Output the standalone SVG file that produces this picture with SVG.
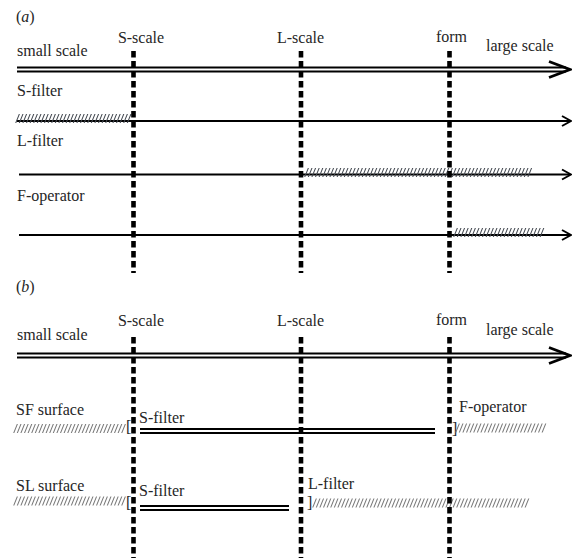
<svg xmlns="http://www.w3.org/2000/svg" width="572" height="558" viewBox="0 0 572 558">
  <style>
    text { font-family: "Liberation Serif", "Times New Roman", serif; font-size: 16px; fill: #262626; }
    .mid { text-anchor: middle; }
    .scale { stroke: #000; stroke-width: 4.6; stroke-dasharray: 6.5 3.5; fill: none; }
    .axis-outer { stroke: #000; stroke-width: 6; fill: none; }
    .axis-inner { stroke: #fff; stroke-width: 2; fill: none; }
    .line { stroke: #000; stroke-width: 2; fill: none; }
    .head2 { stroke: #000; stroke-width: 2.8; fill: none; stroke-linejoin: miter; }
    .head1 { stroke: #000; stroke-width: 2; fill: none; }
    .hatch-dark { stroke: #454a52; stroke-width: 9; stroke-dasharray: 1.1 2.5; fill: none; }
    .hatch { stroke: #7a7a7a; stroke-width: 9; stroke-dasharray: 1.1 2.5; fill: none; }
    .band-outer { stroke: #000; stroke-width: 6; fill: none; }
    .band-inner { stroke: #fff; stroke-width: 1.8; fill: none; }
  </style>

  <!-- ================= panel (a) ================= -->
  <g id="panel-a">
    <text x="16" y="22">(<tspan font-style="italic">a</tspan>)</text>

    <g id="a-axis">
      <text x="17" y="56">small scale</text>
      <text x="486" y="51">large scale</text>
      <path class="axis-outer" d="M17 69.5 H566"/>
      <path class="axis-inner" d="M17 69.5 H566"/>
      <path class="head2" d="M549 61.5 L570 69.5 L549 77.5"/>
    </g>

    <g id="a-s-filter">
      <text x="17" y="96">S-filter</text>
      <path class="line" d="M17 121 H570"/>
      <path class="hatch-dark" transform="translate(0 118.5) skewX(-22)" d="M17 0 H131"/>
      <path class="head1" d="M562 116 L571 121 L562 126"/>
    </g>

    <g id="a-l-filter">
      <text x="17" y="146">L-filter</text>
      <path class="line" d="M19 174.5 H570"/>
      <path class="hatch-dark" transform="translate(0 172.5) skewX(-22)" d="M306 0 H532"/>
      <path class="head1" d="M562 169.5 L571 174.5 L562 179.5"/>
    </g>

    <g id="a-f-operator">
      <text x="17" y="201">F-operator</text>
      <path class="line" d="M19 235 H570"/>
      <path class="hatch-dark" transform="translate(0 232.5) skewX(-22)" d="M455 0 H545"/>
      <path class="head1" d="M562 230 L571 235 L562 240"/>
    </g>

    <g id="a-scales">
      <text class="mid" x="141" y="43">S-scale</text>
      <text class="mid" x="300.5" y="43">L-scale</text>
      <text class="mid" x="451.5" y="42">form</text>
      <path class="scale" d="M133.5 51 V273"/>
      <path class="scale" d="M301 51 V273"/>
      <path class="scale" d="M449.5 51 V273"/>
    </g>
  </g>

  <!-- ================= panel (b) ================= -->
  <g id="panel-b">
    <text x="16" y="292">(<tspan font-style="italic">b</tspan>)</text>

    <g id="b-axis">
      <text x="17" y="340">small scale</text>
      <text x="486" y="335">large scale</text>
      <path class="axis-outer" d="M17 355.5 H566"/>
      <path class="axis-inner" d="M17 355.5 H566"/>
      <path class="head2" d="M549 347.5 L570 355.5 L549 363.5"/>
    </g>

    <g id="b-sf-surface">
      <text x="16" y="415">SF surface</text>
      <path class="hatch" transform="translate(0 428.5) skewX(-22)" d="M15 0 H126"/>
      <text x="126" y="432">[</text>
      <text x="139" y="423">S-filter</text>
      <path class="band-outer" d="M140 431 H435"/>
      <path class="band-inner" d="M140 431 H435"/>
      <text x="452" y="434">]</text>
      <path class="hatch" transform="translate(0 428) skewX(-22)" d="M457 0 H545"/>
      <text x="459" y="412">F-operator</text>
    </g>

    <g id="b-sl-surface">
      <text x="16" y="491">SL surface</text>
      <path class="hatch" transform="translate(0 501) skewX(-22)" d="M15 0 H126"/>
      <text x="126" y="508">[</text>
      <text x="139" y="496">S-filter</text>
      <path class="band-outer" d="M140 508 H289"/>
      <path class="band-inner" d="M140 508 H289"/>
      <text x="307" y="508">]</text>
      <text x="308" y="489">L-filter</text>
      <path class="hatch" transform="translate(0 503) skewX(-22)" d="M314 0 H530"/>
    </g>

    <g id="b-scales">
      <text class="mid" x="141" y="326">S-scale</text>
      <text class="mid" x="300.5" y="326">L-scale</text>
      <text class="mid" x="451.5" y="325">form</text>
      <path class="scale" d="M133.5 337 V558"/>
      <path class="scale" d="M301 337 V558"/>
      <path class="scale" d="M449.5 337 V558"/>
    </g>
  </g>
</svg>
